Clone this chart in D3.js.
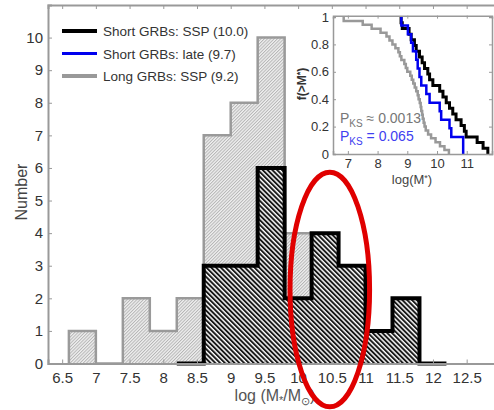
<!DOCTYPE html>
<html>
<head>
<meta charset="utf-8">
<script src="https://cdn.jsdelivr.net/npm/d3@7/dist/d3.min.js"></script>
<style>
  body { margin: 0; background: #fff; }
  svg text { font-family: Arial, "Liberation Sans", sans-serif; }
  .axis path, .axis line { stroke: #999; }
  .axis text { fill: #333; }
</style>
</head>
<body>
<div id="block-histogram"></div>
<script>
// Global config
var BIN_WIDTH = 0.4;

// left edges + counts of each histogram
var LONG_BINS = [6.6, 7.0, 7.4, 7.8, 8.2, 8.6, 9.0, 9.4, 9.8];
var LONG_COUNTS = [1, 0, 2, 1, 2, 7, 8, 10, 4];
var SHORT_BINS = [8.2, 8.6, 9.0, 9.4, 9.8, 10.2, 10.6, 11.0, 11.4, 11.8];
var SHORT_COUNTS = [0, 3, 3, 6, 2, 4, 3, 1, 2, 0];

var X_TICKS = [6.5, 7, 7.5, 8, 8.5, 9, 9.5, 10, 10.5, 11, 11.5, 12, 12.5];
var Y_TICKS = [0, 1, 2, 3, 4, 5, 6, 7, 8, 9, 10];

var LEGEND_LABELS = [
  "Short GRBs: SSP (10.0)",
  "Short GRBs: late (9.7)",
  "Long GRBs: SSP (9.2)"
];
var LEGEND_COLORS = ["#000", "#0000ee", "#999"];

// inset: individual masses for the cumulative curves
var LONG_MASSES = [6.86, 7.5, 7.8, 8.1, 8.3, 8.4, 8.5, 8.6, 8.7, 8.75,
  8.8, 8.9, 8.95, 9.0, 9.1, 9.15, 9.2, 9.25, 9.3, 9.35,
  9.38, 9.42, 9.45, 9.47, 9.5, 9.52, 9.55, 9.58, 9.62, 9.7,
  9.8, 9.95, 10.1, 10.25, 10.4];
var SHORT_SSP_MASSES = [8.79, 8.83, 9.06, 9.13, 9.24, 9.30, 9.41, 9.50,
  9.58, 9.69, 9.75, 9.86, 10.09, 10.20, 10.31, 10.42, 10.53, 10.64,
  10.81, 10.92, 10.98, 11.35, 11.55, 11.71];
var SHORT_LATE_MASSES = [8.8, 9.02, 9.13, 9.19, 9.30, 9.35, 9.41, 9.47,
  9.64, 9.75, 10.09, 10.14, 10.42, 10.48, 10.88, 10.88];

var INSET_X_TICKS = [7, 8, 9, 10, 11];
var INSET_Y_TICKS = [0, 0.2, 0.4, 0.6, 0.8, 1];

var PKS_LABELS = [" \u2248 0.0013", " = 0.065"];
var PKS_COLORS = ["#777", "#4040f0"];

var W = 494;
var H = 410;

var makeTranslate = function(x, y) {
  return "translate(" + x + "," + y + ")";
};

// Turn a list of masses into f(>M) step points.
var cumulative = function(masses) {
  var sorted = masses.slice().sort(d3.ascending);
  var n = sorted.length;
  var pts = [];
  sorted.forEach(function(m, i) {
    pts.push([m, 1 - i / n]);
    pts.push([m, 1 - (i + 1) / n]);
  });
  return pts;
};

// Step outline of a histogram.
var stairs = function(bins, counts) {
  var pts = [[bins[0], 0]];
  bins.forEach(function(b, i) {
    pts.push([b, counts[i]]);
    pts.push([b + BIN_WIDTH, counts[i]]);
  });
  pts.push([bins[bins.length - 1] + BIN_WIDTH, 0]);
  return pts;
};

var render = function() {
  var svg = d3.select("#block-histogram")
    .append("svg")
    .attr("width", W)
    .attr("height", H);

  // Hatch patterns
  var defs = svg.append("defs");
  var grayHatch = defs.append("pattern")
    .attr("id", "hatch-gray")
    .attr("patternUnits", "userSpaceOnUse")
    .attr("width", 2.3).attr("height", 2.3)
    .attr("patternTransform", "rotate(45)");
  grayHatch.append("rect").attr("width", 2.3).attr("height", 2.3).attr("fill", "#efefef");
  grayHatch.append("line").attr("x1", 0.5).attr("x2", 0.5).attr("y1", 0).attr("y2", 2.3)
    .attr("stroke", "#b0b0b0").attr("stroke-width", 0.9);

  var blackHatch = defs.append("pattern")
    .attr("id", "hatch-black")
    .attr("patternUnits", "userSpaceOnUse")
    .attr("width", 3.4).attr("height", 3.4)
    .attr("patternTransform", "rotate(-45)");
  blackHatch.append("rect").attr("width", 3.4).attr("height", 3.4).attr("fill", "#fff");
  blackHatch.append("line").attr("x1", 1).attr("x2", 1).attr("y1", 0).attr("y2", 3.4)
    .attr("stroke", "#111").attr("stroke-width", 1.9);

  // Main scales
  var xScale = d3.scaleLinear().domain([6.29, 12.95]).range([48, 497]);
  var yScale = d3.scaleLinear().domain([0, 11]).range([363.5, 5]);

  var line = d3.line()
    .x(d => xScale(d[0]))
    .y(d => yScale(d[1]));

  // Histograms: long behind, short on top
  svg.append("path")
    .attr("d", line(stairs(LONG_BINS, LONG_COUNTS)))
    .attr("fill", "url(#hatch-gray)")
    .attr("stroke", "#9a9a9a")
    .attr("stroke-width", 2.5);

  svg.append("path")
    .attr("d", line(stairs(SHORT_BINS, SHORT_COUNTS)))
    .attr("fill", "url(#hatch-black)")
    .attr("stroke", "#000")
    .attr("stroke-width", 4)
    .attr("stroke-linejoin", "miter");

  // Axes
  svg.append("g")
    .attr("class", "x axis")
    .attr("transform", makeTranslate(0, yScale(0)))
    .call(d3.axisBottom(xScale).tickValues(X_TICKS).tickFormat(String).tickSize(-4).tickPadding(9))
    .call(g => g.selectAll("text").attr("font-size", 15));

  svg.append("g")
    .attr("class", "axis")
    .attr("transform", makeTranslate(0, yScale(11)))
    .call(d3.axisTop(xScale).tickValues(X_TICKS).tickSize(-4).tickFormat(""));

  svg.append("g")
    .attr("class", "y axis")
    .attr("transform", makeTranslate(xScale(6.29), 0))
    .call(d3.axisLeft(yScale).tickValues(Y_TICKS).tickFormat(String).tickSize(-4).tickPadding(5))
    .call(g => g.selectAll("text").attr("font-size", 15));

  svg.selectAll(".axis path").attr("stroke-width", 2);

  // Axis titles
  svg.append("text")
    .attr("transform", makeTranslate(27, 192) + " rotate(-90)")
    .attr("text-anchor", "middle")
    .attr("font-size", 16)
    .attr("fill", "#444")
    .text("Number");

  var xTitle = svg.append("text")
    .attr("x", 275).attr("y", 401)
    .attr("text-anchor", "middle")
    .attr("font-size", 16)
    .attr("fill", "#555");
  xTitle.append("tspan").text("log (M");
  xTitle.append("tspan").attr("font-size", 11).attr("dy", 3).text("*");
  xTitle.append("tspan").attr("dy", -3).text("/M");
  xTitle.append("tspan").attr("font-size", 11).attr("dy", 4).text("\u2299");
  xTitle.append("tspan").attr("dy", -4).text(")");

  // Legend
  var legend = svg.append("g").attr("class", "legend");
  LEGEND_LABELS.forEach(function(label, i) {
    var y = 31 + i * 22.5;
    legend.append("line")
      .attr("x1", 62).attr("x2", 97)
      .attr("y1", y).attr("y2", y)
      .attr("stroke", LEGEND_COLORS[i])
      .attr("stroke-width", i == 1 ? 3 : 4);
    legend.append("text")
      .attr("x", 103).attr("y", y + 5)
      .attr("font-size", 13.5)
      .attr("fill", "#333")
      .text(label);
  });

  // Inset: cumulative distributions
  var ix = d3.scaleLinear().domain([6.5, 11.85]).range([333, 492]);
  var iy = d3.scaleLinear().domain([0, 1]).range([154, 17]);
  var inset = svg.append("g").attr("class", "inset");

  inset.append("rect")
    .attr("x", ix(6.5)).attr("y", iy(1.01))
    .attr("width", ix(11.85) - ix(6.5))
    .attr("height", iy(0) - iy(1.01))
    .attr("fill", "#fff");

  var iline = d3.line()
    .x(d => ix(d[0]))
    .y(d => iy(d[1]));

  inset.append("path")
    .attr("d", iline(cumulative(LONG_MASSES)))
    .attr("fill", "none").attr("stroke", "#999").attr("stroke-width", 2.5);
  inset.append("path")
    .attr("d", iline(cumulative(SHORT_SSP_MASSES)))
    .attr("fill", "none").attr("stroke", "#000").attr("stroke-width", 3);
  inset.append("path")
    .attr("d", iline(cumulative(SHORT_LATE_MASSES)))
    .attr("fill", "none").attr("stroke", "#0000ee").attr("stroke-width", 2.5);

  inset.append("g")
    .attr("class", "axis")
    .attr("transform", makeTranslate(0, iy(0)))
    .call(d3.axisBottom(ix).tickValues(INSET_X_TICKS).tickFormat(String).tickSize(-3).tickPadding(5))
    .call(g => g.selectAll("text").attr("font-size", 13));
  inset.append("g")
    .attr("class", "axis")
    .attr("transform", makeTranslate(0, iy(1.01)))
    .call(d3.axisTop(ix).tickValues(INSET_X_TICKS).tickSize(-3).tickFormat(""));
  inset.append("g")
    .attr("class", "axis")
    .attr("transform", makeTranslate(ix(6.5), 0))
    .call(d3.axisLeft(iy).tickValues(INSET_Y_TICKS).tickFormat(String).tickSize(-3).tickPadding(4))
    .call(g => g.selectAll("text").attr("font-size", 13));
  inset.append("g")
    .attr("class", "axis")
    .attr("transform", makeTranslate(ix(11.85), 0))
    .call(d3.axisRight(iy).tickValues(INSET_Y_TICKS).tickSize(-3).tickFormat(""));
  inset.selectAll(".axis path").attr("stroke-width", 1.5);

  var iyTitle = inset.append("text")
    .attr("transform", makeTranslate(306, 84) + " rotate(-90)")
    .attr("text-anchor", "middle")
    .attr("font-size", 12)
    .attr("font-weight", "bold")
    .attr("fill", "#333");
  iyTitle.append("tspan").text("f(>M");
  iyTitle.append("tspan").attr("font-size", 9).attr("dy", -3).text("*");
  iyTitle.append("tspan").attr("dy", 3).text(")");

  var ixTitle = inset.append("text")
    .attr("x", 412).attr("y", 184)
    .attr("text-anchor", "middle")
    .attr("font-size", 13)
    .attr("fill", "#444");
  ixTitle.append("tspan").text("log(M");
  ixTitle.append("tspan").attr("font-size", 9).attr("dy", -3).text("*");
  ixTitle.append("tspan").attr("dy", 3).text(")");

  // KS probabilities
  PKS_LABELS.forEach(function(label, i) {
    var t = inset.append("text")
      .attr("x", 340).attr("y", 123 + i * 18)
      .attr("font-size", 14)
      .attr("fill", PKS_COLORS[i]);
    t.append("tspan").text("P");
    t.append("tspan").attr("font-size", 10).attr("dy", 4).text("KS");
    t.append("tspan").attr("dy", -4).text(label);
  });

  // Red annotation ellipse
  svg.append("ellipse")
    .attr("cx", xScale(10.47))
    .attr("cy", yScale(2.27))
    .attr("rx", xScale(10.47) - xScale(9.88))
    .attr("ry", yScale(0) - yScale(3.6))
    .attr("fill", "none")
    .attr("stroke", "#e00000")
    .attr("stroke-width", 5);
};

window.onload = render;
</script>
</body>
</html>
